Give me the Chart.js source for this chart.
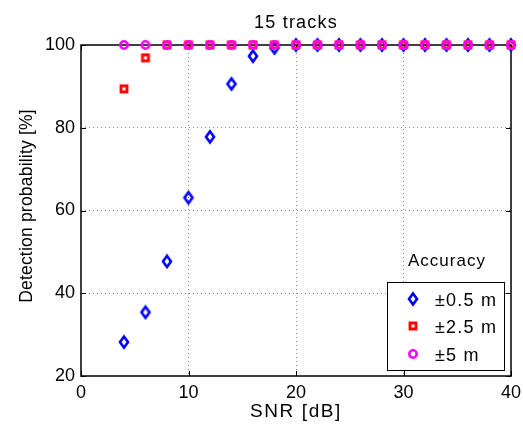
<!DOCTYPE html>
<html lang="en">
<head>
    <meta charset="UTF-8">
    <title>15 tracks</title>
    <script src="https://cdn.jsdelivr.net/npm/chart.js"></script>
    <style>
        body { margin: 0; padding: 0; background: #fff; }
        #wrap { width: 523px; height: 430px; }
    </style>
</head>
<body>
    <div id="wrap"><canvas id="detChart" width="523" height="430"></canvas></div>

    <script>
        const snr = [4, 6, 8, 10, 12, 14, 16, 18, 20, 22, 24, 26, 28, 30, 32, 34, 36, 38, 40];
        const acc05 = [28.2, 35.4, 47.7, 63.1, 77.8, 90.6, 97.3, 99.3, 100, 100, 100, 100, 100, 100, 100, 100, 100, 100, 100];
        const acc25 = [89.4, 96.9, 100, 100, 100, 100, 100, 100, 100, 100, 100, 100, 100, 100, 100, 100, 100, 100, 100];
        const acc5 = [100, 100, 100, 100, 100, 100, 100, 100, 100, 100, 100, 100, 100, 100, 100, 100, 100, 100, 100];
        const seriesNames = ['\u00b10.5 m', '\u00b12.5 m', '\u00b15 m'];
        const xTicks = [0, 10, 20, 30, 40];
        const yTicks = [20, 40, 60, 80, 100];

        const FONT = '"Liberation Sans", Arial, sans-serif';
        const toPts = vals => snr.map((x, i) => ({ x: x, y: vals[i] }));

        // small marker images, thick strokes like the matlab export
        function marker(kind, color) {
            const c = document.createElement('canvas');
            c.width = 16; c.height = 16;
            const g = c.getContext('2d');
            g.strokeStyle = color;
            g.lineWidth = 2.6;
            g.beginPath();
            if (kind === 'diamond') {
                g.moveTo(8, 2.5); g.lineTo(12, 8); g.lineTo(8, 13.5); g.lineTo(4, 8); g.closePath();
            } else if (kind === 'square') {
                g.lineWidth = 2.8;
                g.rect(5, 5, 6, 6);
            } else {
                g.arc(8, 8, 3.7, 0, Math.PI * 2);
            }
            g.stroke();
            return c;
        }
        const markers = [marker('diamond', '#0000ff'), marker('square', '#ff0000'), marker('circle', '#ff00ff')];

        function spacedText(ctx, text, x, y, spacing) {
            ctx.letterSpacing = spacing + 'px';
            ctx.fillText(text, x, y);
            ctx.letterSpacing = '0px';
        }

        const frame = {
            id: 'frame',
            beforeDatasetsDraw(chart) {
                const { ctx, chartArea: a, scales } = chart;
                ctx.save();
                ctx.strokeStyle = '#000';
                ctx.lineWidth = 1;
                ctx.beginPath();
                xTicks.forEach(t => {
                    const px = Math.round(scales.x.getPixelForValue(t)) + 0.5;
                    ctx.moveTo(px, a.bottom); ctx.lineTo(px, a.bottom - 5);
                    ctx.moveTo(px, a.top); ctx.lineTo(px, a.top + 5);
                });
                yTicks.forEach(t => {
                    const py = Math.round(scales.y.getPixelForValue(t)) + 0.5;
                    ctx.moveTo(a.left, py); ctx.lineTo(a.left + 5, py);
                    ctx.moveTo(a.right, py); ctx.lineTo(a.right - 5, py);
                });
                ctx.stroke();
                ctx.lineWidth = 1.5;
                ctx.strokeRect(a.left, a.top, a.right - a.left, a.bottom - a.top);

                ctx.fillStyle = '#000';
                ctx.textAlign = 'center';
                ctx.textBaseline = 'alphabetic';
                ctx.font = '18px ' + FONT;
                spacedText(ctx, '15 tracks', (a.left + a.right) / 2, 28, 1.2);
                ctx.font = '19px ' + FONT;
                spacedText(ctx, 'SNR [dB]', (a.left + a.right) / 2, 417, 1.6);
                ctx.save();
                ctx.translate(32, 206);
                ctx.rotate(-Math.PI / 2);
                ctx.font = '17.5px ' + FONT;
                spacedText(ctx, 'Detection probability [%]', 0, 0, 0.2);
                ctx.restore();
                ctx.restore();
            },
            afterDraw(chart) {
                const ctx = chart.ctx;
                ctx.save();
                ctx.fillStyle = '#000';
                ctx.textAlign = 'left';
                ctx.textBaseline = 'alphabetic';
                ctx.font = '17px ' + FONT;
                spacedText(ctx, 'Accuracy', 408, 266, 1);
                const bx = 387, by = 282, bw = 117, bh = 88;
                ctx.fillStyle = '#fff';
                ctx.fillRect(bx, by, bw, bh);
                ctx.strokeStyle = '#000';
                ctx.lineWidth = 1;
                ctx.strokeRect(bx + 0.5, by + 0.5, bw, bh);
                ctx.font = '18px ' + FONT;
                seriesNames.forEach((name, i) => {
                    const yy = [299, 326, 354][i];
                    ctx.drawImage(markers[i], 413 - 8, yy - 8);
                    ctx.fillStyle = '#000';
                    spacedText(ctx, name, 435, yy + 7, 1.2);
                });
                ctx.restore();
            }
        };

        const gridColor = (ctx) => {
            const v = ctx.tick ? ctx.tick.value : null;
            const s = ctx.scale;
            if (v === s.min || v === s.max) return 'rgba(0,0,0,0)';
            return '#888';
        };

        new Chart(document.getElementById('detChart'), {
            type: 'scatter',
            data: {
                datasets: [acc05, acc25, acc5].map((vals, i) => ({
                    label: seriesNames[i],
                    data: toPts(vals),
                    order: 2 - i,
                    pointStyle: markers[i],
                    pointRadius: 6,
                    pointHoverRadius: 6,
                    showLine: false,
                    clip: false
                }))
            },
            options: {
                responsive: false,
                animation: false,
                events: [],
                layout: { padding: { top: 45, right: 12, left: 0, bottom: 0 } },
                plugins: { legend: { display: false }, tooltip: { enabled: false }, title: { display: false } },
                scales: {
                    x: {
                        type: 'linear', min: 0, max: 40,
                        afterBuildTicks: s => { s.ticks = xTicks.map(v => ({ value: v })); },
                        afterFit: s => { s.height = 54; s.paddingRight = 0; s.paddingLeft = 0; },
                        ticks: { color: '#000', font: { family: FONT, size: 18 }, maxRotation: 0, padding: 6 },
                        grid: { color: gridColor, drawTicks: false, lineWidth: 1 },
                        border: { display: false, dash: [1, 3] }
                    },
                    y: {
                        type: 'linear', min: 20, max: 100,
                        afterBuildTicks: s => { s.ticks = yTicks.map(v => ({ value: v })); },
                        afterFit: s => { s.width = 81; s.paddingTop = 0; s.paddingBottom = 0; },
                        ticks: { color: '#000', font: { family: FONT, size: 18 }, padding: 6 },
                        grid: { color: gridColor, drawTicks: false, lineWidth: 1 },
                        border: { display: false, dash: [1, 3] }
                    }
                }
            },
            plugins: [frame]
        });
    </script>
</body>
</html>
